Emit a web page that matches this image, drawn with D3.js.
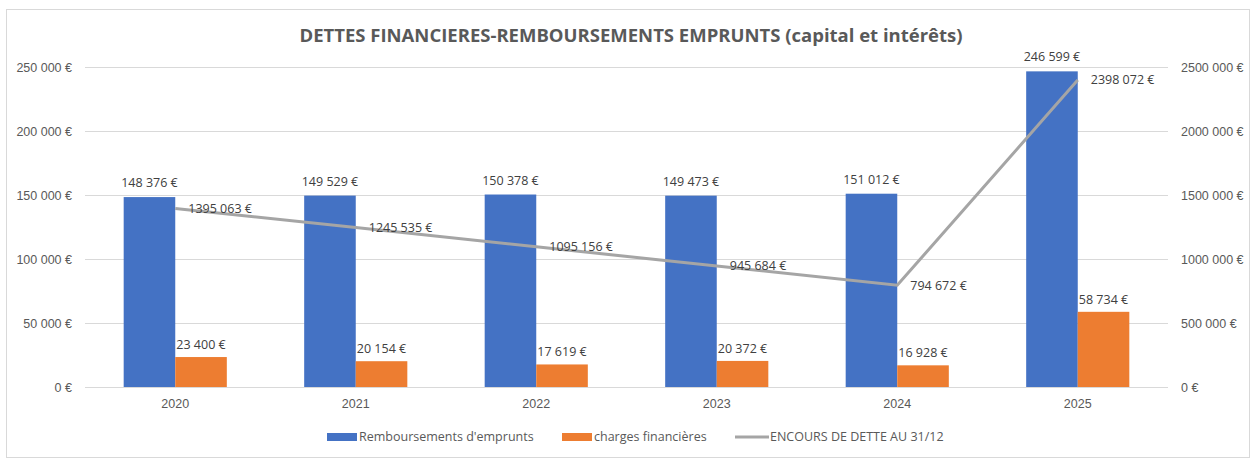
<!DOCTYPE html>
<html>
<head>
<meta charset="utf-8">
<style>
  body { margin: 0; background: white; }
  svg { font-family: 'Open Sans', sans-serif; }
  .grid line { stroke: #d9d9d9; }
  .axis text { fill: #595959; font-size: 12.5px; }
  .lbl { fill: #404040; font-size: 12.5px; }
</style>
</head>
<body>
<script src="https://d3js.org/d3.v7.min.js"></script>
<div id="chart"></div>
<script>
// data
var years = ["2020", "2021", "2022", "2023", "2024", "2025"];
var remboursements = [148376, 149529, 150378, 149473, 151012, 246599];
var charges = [23400, 20154, 17619, 20372, 16928, 58734];
var encours = [1395063, 1245535, 1095156, 945684, 794672, 2398072];
var leftTicks = [0, 50000, 100000, 150000, 200000, 250000];
var rightTicks = [0, 500000, 1000000, 1500000, 2000000, 2500000];

var W = 1253, H = 459;

// Excel style "# ##0 €" : space only for the first thousands group
function euro(v) {
  var s = String(Math.round(v));
  if (s.length > 3) s = s.slice(0, s.length - 3) + " " + s.slice(-3);
  return s + " €";
}

var svg = d3.select("#chart").append("svg")
  .attr("width", W).attr("height", H);

svg.append("rect")
  .attr("x", 6.5).attr("y", 9.5)
  .attr("width", 1243).attr("height", 448)
  .attr("fill", "white").attr("stroke", "#d9d9d9");

var x0 = d3.scaleBand().domain(years).range([85, 1168]);
var x1 = d3.scaleBand().domain(["r", "c"])
  .range([0, x0.bandwidth()]).paddingOuter(0.75);

var y = d3.scaleLinear().domain([0, 250000]).range([387, 67]);
var y2 = d3.scaleLinear().domain([0, 2500000]).range([387, 67]);

// grid
svg.append("g").attr("class", "grid")
  .selectAll("line").data(leftTicks).enter().append("line")
  .attr("x1", 85).attr("x2", 1168)
  .attr("y1", function(d) { return Math.round(y(d)) + 0.5; })
  .attr("y2", function(d) { return Math.round(y(d)) + 0.5; });

// axes
var gl = svg.append("g").attr("class", "axis")
  .attr("transform", "translate(85,0)")
  .call(d3.axisLeft(y).tickValues(leftTicks).tickFormat(euro).tickSize(0).tickPadding(13));
gl.select(".domain").remove();

var gr = svg.append("g").attr("class", "axis")
  .attr("transform", "translate(1168,0)")
  .call(d3.axisRight(y2).tickValues(rightTicks).tickFormat(euro).tickSize(0).tickPadding(13));
gr.select(".domain").remove();

var gx = svg.append("g").attr("class", "axis")
  .attr("transform", "translate(0,387)")
  .call(d3.axisBottom(x0).tickSize(0).tickPadding(12));
gx.select(".domain").remove();

// bars
svg.append("g").selectAll("rect").data(years).enter().append("rect")
  .attr("x", function(d) { return x0(d) + x1("r"); })
  .attr("width", x1.bandwidth())
  .attr("y", function(d, i) { return y(remboursements[i]); })
  .attr("height", function(d, i) { return 387 - y(remboursements[i]); })
  .attr("fill", "#4472c4");

svg.append("g").selectAll("rect").data(years).enter().append("rect")
  .attr("x", function(d) { return x0(d) + x1("c"); })
  .attr("width", x1.bandwidth())
  .attr("y", function(d, i) { return y(charges[i]); })
  .attr("height", function(d, i) { return 387 - y(charges[i]); })
  .attr("fill", "#ed7d31");

// line
var cx = function(d) { return x0(d) + x0.bandwidth() / 2; };
svg.append("path")
  .datum(years)
  .attr("fill", "none")
  .attr("stroke", "#a5a5a5")
  .attr("stroke-width", 3)
  .attr("d", d3.line()
    .x(cx)
    .y(function(d, i) { return y2(encours[i]); }));

// labels
svg.append("g").selectAll("text").data(years).enter().append("text")
  .attr("class", "lbl")
  .attr("text-anchor", "middle")
  .attr("x", function(d) { return x0(d) + x1("r") + x1.bandwidth() / 2; })
  .attr("y", function(d, i) { return y(remboursements[i]) - 10; })
  .text(function(d, i) { return euro(remboursements[i]); });

svg.append("g").selectAll("text").data(years).enter().append("text")
  .attr("class", "lbl")
  .attr("text-anchor", "middle")
  .attr("x", function(d) { return x0(d) + x1("c") + x1.bandwidth() / 2; })
  .attr("y", function(d, i) { return y(charges[i]) - 8; })
  .text(function(d, i) { return euro(charges[i]); });

svg.append("g").selectAll("text").data(years).enter().append("text")
  .attr("class", "lbl")
  .attr("x", function(d) { return cx(d) + 13; })
  .attr("y", function(d, i) { return y2(encours[i]); })
  .attr("dy", "0.35em")
  .text(function(d, i) { return euro(encours[i]); });

// title
svg.append("text")
  .attr("x", 631).attr("y", 42)
  .attr("text-anchor", "middle")
  .attr("fill", "#595959")
  .style("font-size", "18.5px").style("font-weight", "bold")
  .text("DETTES FINANCIERES-REMBOURSEMENTS EMPRUNTS (capital et intérêts)");

// legend
var legend = [
  {name: "Remboursements d'emprunts", color: "#4472c4", type: "rect", x: 327},
  {name: "charges financières", color: "#ed7d31", type: "rect", x: 562},
  {name: "ENCOURS DE DETTE AU 31/12", color: "#a5a5a5", type: "line", x: 735}
];
var lg = svg.append("g").selectAll("g").data(legend).enter().append("g")
  .attr("transform", function(d) { return "translate(" + d.x + ",437)"; });
lg.filter(function(d) { return d.type == "rect"; }).append("rect")
  .attr("x", 0).attr("y", -4).attr("width", 30).attr("height", 8)
  .attr("fill", function(d) { return d.color; });
lg.filter(function(d) { return d.type == "line"; }).append("line")
  .attr("x1", 0).attr("x2", 34).attr("y1", 0).attr("y2", 0)
  .attr("stroke", function(d) { return d.color; }).attr("stroke-width", 3);
lg.append("text")
  .attr("x", function(d) { return d.type == "line" ? 35 : 32; })
  .attr("dy", "0.35em")
  .attr("fill", "#595959")
  .style("font-size", "12.5px")
  .text(function(d) { return d.name; });
</script>
</body>
</html>
